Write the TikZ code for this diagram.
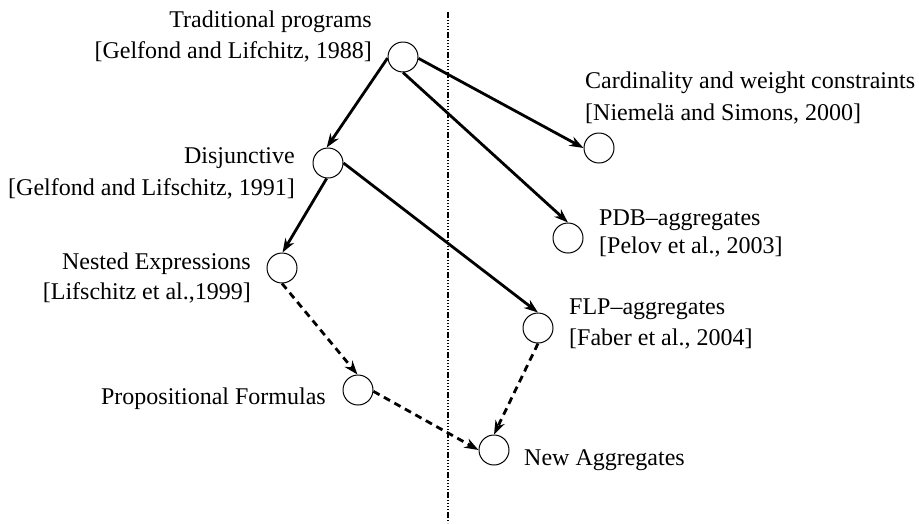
\documentclass[tikz,border=0pt]{standalone}
\usepackage{fontspec}
\setmainfont{Liberation Serif}
\usetikzlibrary{arrows.meta}
\begin{document}
\begin{tikzpicture}[x=1pt,y=-1pt,
  state/.style={circle,draw,line width=1pt,minimum size=30pt,inner sep=0pt},
  lbl/.style={inner sep=0pt,font=\fontsize{24}{30}\selectfont},
  arr/.style={line width=2.8pt,-{Stealth[length=14pt,width=10pt,inset=4.5pt]}},
  darr/.style={arr,dash pattern=on 7pt off 5pt},
  sep/.style={line width=1.1pt,dash pattern=on 6pt off 2pt on 1pt off 2pt on 1pt off 2pt on 1pt off 2pt on 1pt off 2pt}]
\useasboundingbox (0,0) rectangle (919,523);
% separator
\coordinate (s1) at (448,12);
\coordinate (s2) at (448,523);
\draw[sep] (s1) -- (s2);
% states
\node[state] (T) at (403,57) {};
\node[state] (D) at (328,163) {};
\node[state] (C) at (599,148) {};
\node[state] (P) at (568,238) {};
\node[state] (N) at (282,268) {};
\node[state] (PF) at (358,390) {};
\node[state] (F) at (538,328) {};
\node[state] (NA) at (494,450) {};
% labels
\node[lbl,anchor=base east] (t1) at (372,27) {Traditional programs};
\node[lbl,anchor=base east] (t2) at (372,58) {[Gelfond and Lifchitz, 1988]};
\node[lbl,anchor=base east] (d1) at (295,163) {Disjunctive};
\node[lbl,anchor=base east] (d2) at (295,195) {[Gelfond and Lifschitz, 1991]};
\node[lbl,anchor=base west] (c1) at (585,88) {Cardinality and weight constraints};
\node[lbl,anchor=base west] (c2) at (585,120) {[Niemelä and Simons, 2000]};
\node[lbl,anchor=base west] (p1) at (599,225) {PDB\textendash aggregates};
\node[lbl,anchor=base west] (p2) at (599,253) {[Pelov et al., 2003]};
\node[lbl,anchor=base east] (n1) at (251,269) {Nested Expressions};
\node[lbl,anchor=base east] (n2) at (251,299) {[Lifschitz et al.,1999]};
\node[lbl,anchor=base east] (pf1) at (326,404) {Propositional Formulas};
\node[lbl,anchor=base west] (f1) at (569,314) {FLP\textendash aggregates};
\node[lbl,anchor=base west] (f2) at (569,345) {[Faber et al., 2004]};
\node[lbl,anchor=base west] (na1) at (524,465) {New Aggregates};
% connectors
\draw[arr] (T.184) -- (D.95);
\draw[arr] (T.-5) -- (C.180);
\draw[arr] (T.-90) -- (P.90);
\draw[arr] (D.-95) -- (N.88);
\draw[arr] (D.0) -- (F.90);
\draw[darr] (N.-90) -- (PF.92);
\draw[darr] (PF.-5) -- (NA.180);
\draw[darr] (F.-90) -- (NA.90);
\end{tikzpicture}
\end{document}
